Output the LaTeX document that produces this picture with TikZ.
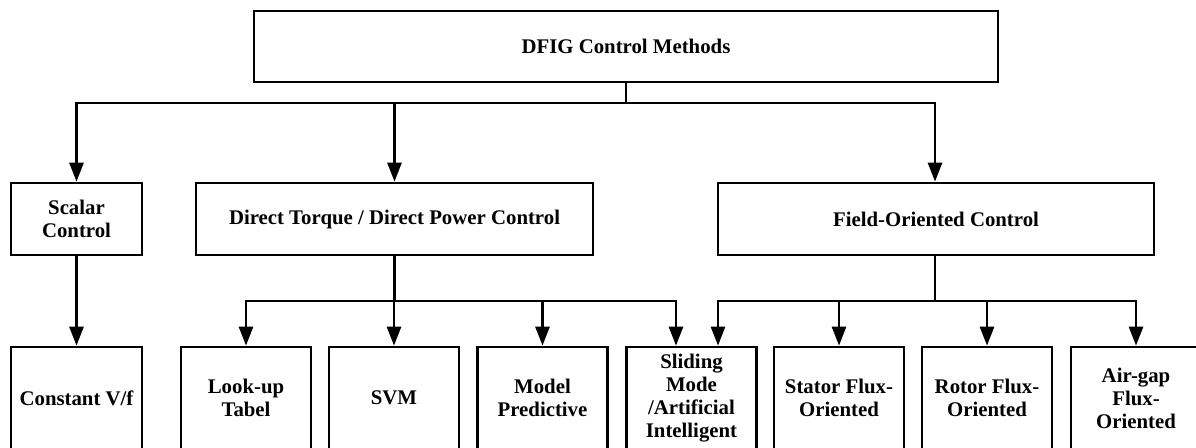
\documentclass[tikz,border=0pt]{standalone}
\usepackage{fontspec}
\setmainfont{Liberation Serif}
\usetikzlibrary{arrows.meta}
\begin{document}
\begin{tikzpicture}[x=1pt,y=-1pt,
  box/.style={draw, line width=2.7pt, rectangle, align=center, inner sep=0pt,
    font=\fontsize{20.8}{23}\selectfont\bfseries},
  leaf/.style={box, minimum width=130pt, minimum height=102pt},
  mid/.style={box, minimum height=72pt},
  link/.style={line width=2.7pt},
  arr/.style={link, -{Triangle[length=19pt,width=14pt]}}]
  \useasboundingbox (0,0) rectangle (1196,447);
  \clip (0,0) rectangle (1196,447);

  % root
  \node[box, minimum width=744pt, minimum height=71pt] (root) at (626,46.5) {DFIG Control Methods};

  % second level
  \node[mid, minimum width=131pt] (scalar) at (76.5,219) {Scalar\\Control};
  \node[mid, minimum width=397pt] (dtc) at (394.5,219) {Direct Torque / Direct Power Control};
  \node[mid, minimum width=436pt] (foc) at (936,219) {Field-Oriented Control};

  % third level
  \node[leaf, minimum width=131pt] (cvf) at (76.5,398) {Constant V/f};
  \node[leaf] (lut) at (246,398) {Look-up\\Tabel};
  \node[leaf] (svm) at (394,398) {SVM};
  \node[leaf] (mpc) at (542.5,398) {Model\\Predictive};
  \node[leaf] (smc) at (691.5,398) {Sliding\\Mode\\/Artificial\\Intelligent};
  \node[leaf] (sfo) at (839,398) {Stator Flux-\\Oriented};
  \node[leaf] (rfo) at (987,398) {Rotor Flux-\\Oriented};
  \node[leaf] (afo) at (1136,398) {Air-gap\\Flux-\\Oriented};

  % branch points
  \coordinate (b1) at (root.south |- 0,103);
  \coordinate (b2) at (dtc.south |- 0,301);
  \coordinate (b3) at ([xshift=-1pt]foc.south |- 0,301);
  \coordinate (smcL) at ([xshift=-15.5pt]smc.north);
  \coordinate (smcR) at ([xshift=26.5pt]smc.north);

  % root to second level
  \draw[link] (root.south) -- (b1);
  \draw[arr] (b1) -| (scalar.north);
  \draw[arr] (b1) -| (dtc.north);
  \draw[arr] (b1) -| ([xshift=-1pt]foc.north);

  % scalar control
  \draw[arr] (scalar.south) -- (cvf.north);

  % direct torque / direct power control
  \draw[link] (dtc.south) -- (b2);
  \draw[arr] (b2) -| (lut.north);
  \draw[arr] (b2) -| (svm.north);
  \draw[arr] (b2) -| (mpc.north);
  \draw[arr] (b2) -| (smcL);

  % field-oriented control
  \draw[link] ([xshift=-1pt]foc.south) -- (b3);
  \draw[arr] (b3) -| (smcR);
  \draw[arr] (b3) -| (sfo.north);
  \draw[arr] (b3) -| (rfo.north);
  \draw[arr] (b3) -| (afo.north);
\end{tikzpicture}
\end{document}
